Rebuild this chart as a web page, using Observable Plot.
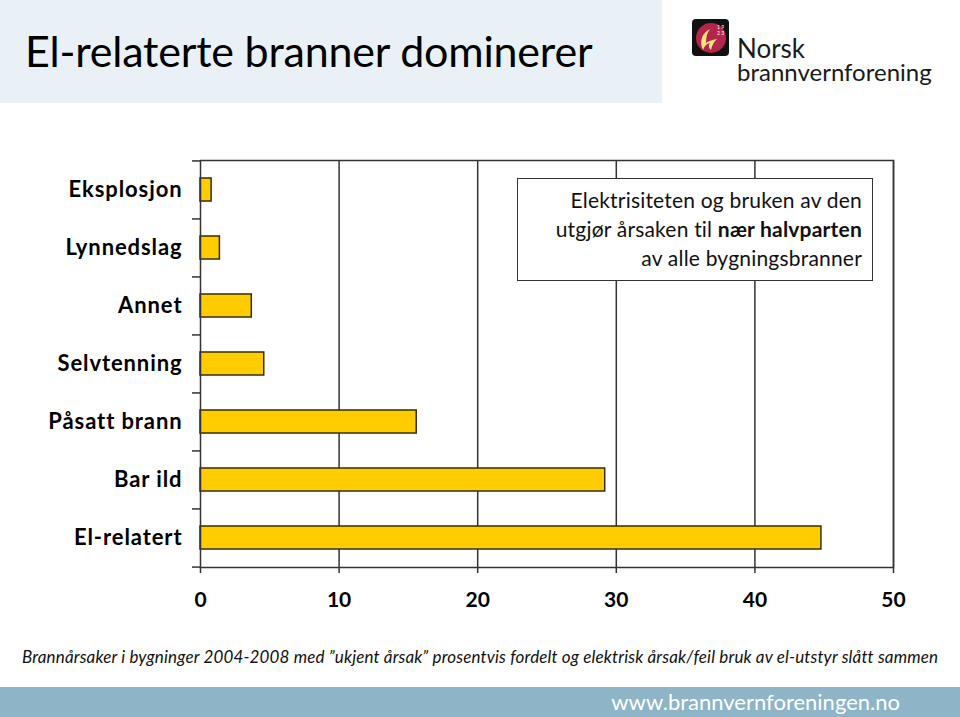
<!DOCTYPE html>
<html>
<head>
<meta charset="utf-8">
<script src="https://cdn.jsdelivr.net/npm/d3@7"></script>
<script src="https://cdn.jsdelivr.net/npm/@observablehq/plot@0.6"></script>
<style>
  html, body { margin: 0; padding: 0; background: #fff; }
  body { width: 960px; height: 717px; position: relative; overflow: hidden; font-family: Lato, "Open Sans", sans-serif; }
  #titlebg { position: absolute; left: 0; top: 0; width: 662px; height: 103px; background: #eaf1f6; }
  #title { position: absolute; left: 25px; top: 25px; font-size: 43px; line-height: 52px; color: #000; white-space: nowrap; letter-spacing: -0.2px; }
  #logo { position: absolute; left: 690px; top: 17px; }
  #org { position: absolute; left: 737px; top: 37px; font-size: 24px; color: #1a1a1a; line-height: 22.5px; white-space: nowrap; }
  #org .n { font-size: 26px; }
  #chart { position: absolute; left: 0; top: 0; }
  #chart svg g[aria-label="y-axis tick label"] text { letter-spacing: 0.9px; }
  #note { position: absolute; left: 517px; top: 178px; width: 344px; height: 95px; border: 1.5px solid #333; background: #fff; text-align: right; padding-right: 10px; font-size: 21px; line-height: 29px; padding-top: 6px; box-sizing: content-box; color: #111; white-space: nowrap; letter-spacing: 0.2px; }
  #caption { position: absolute; left: 22px; top: 646px; font-size: 17px; font-style: italic; color: #111; white-space: nowrap; letter-spacing: 0.15px; }
  #footer { position: absolute; left: 0; top: 687px; width: 960px; height: 30px; background: #8db4c7; }
  #url { position: absolute; right: 60px; top: 1px; font-size: 22px; color: #fff; line-height: 28px; white-space: nowrap; }
</style>
</head>
<body>
<div id="titlebg"></div>
<div id="title">El-relaterte branner dominerer</div>
<svg id="logo" width="42" height="42" viewBox="0 0 42 42">
  <rect x="2" y="2" width="37" height="37" rx="4" fill="#111"/>
  <circle cx="21" cy="21" r="15" fill="#b3254b"/>
  <path d="M20 12 C12 16 9 24 13 33 C15 28 17 27 20 26 C18 29 19 31 21 33 C22 28 24 25 27 22 C22 23 18 24 16 26 C16 20 17 16 20 12 Z" fill="#f4e27a"/>
  <text x="27" y="12" font-size="5" fill="#fff" font-family="Lato">1 9</text>
  <text x="27" y="18" font-size="5" fill="#fff" font-family="Lato">2 3</text>
</svg>
<div id="org"><span class="n">Norsk</span><br>brannvernforening</div>
<div id="chart"></div>
<div id="note">Elektrisiteten og bruken av den<br>utgjør årsaken til <b>nær halvparten</b><br>av alle bygningsbranner</div>
<div id="caption">Brannårsaker i bygninger 2004-2008 med ”ukjent årsak” prosentvis fordelt og elektrisk årsak/feil bruk av el-utstyr slått sammen</div>
<div id="footer"><div id="url">www.brannvernforeningen.no</div></div>
<script>
const categories = ["Eksplosjon", "Lynnedslag", "Annet", "Selvtenning", "Påsatt brann", "Bar ild", "El-relatert"];
const values = [0.8, 1.4, 3.7, 4.6, 15.6, 29.2, 44.8];
const xTicks = [0, 10, 20, 30, 40, 50];

const data = categories.map((c, i) => ({cat: c, value: values[i]}));

const W = 960, H = 717;
const mTop = 160, mBottom = 150, mLeft = 200, mRight = 67;
const step = (H - mTop - mBottom) / categories.length;

const chart = Plot.plot({
  width: W,
  height: H,
  marginTop: mTop,
  marginBottom: mBottom,
  marginLeft: mLeft,
  marginRight: mRight,
  style: {fontFamily: "Lato, 'Open Sans', sans-serif", background: "transparent", color: "#000", overflow: "visible"},
  x: {domain: [0, 50], ticks: xTicks, label: null},
  y: {domain: categories, paddingInner: 0.6, paddingOuter: 0.3, label: null},
  marks: [
    Plot.gridX(xTicks.slice(1), {stroke: "#333", strokeOpacity: 1, strokeWidth: 1.5}),
    Plot.barX(data, {x: "value", y: "cat", fill: "#ffcc00", stroke: "#3a2c00", strokeWidth: 1.5}),
    Plot.frame({stroke: "#333", strokeWidth: 1.5}),
    Plot.axisX({ticks: xTicks, tickSize: 6, tickPadding: 19, fontSize: 21, fontWeight: "bold", stroke: "#333", strokeWidth: 1.5, label: null}),
    Plot.axisY({tickSize: 8, tickFormat: () => "", dy: -step / 2, stroke: "#333", strokeWidth: 1.5, label: null}),
    Plot.axisY({ticks: [categories[categories.length - 1]], tickSize: 8, tickFormat: () => "", dy: step / 2, stroke: "#333", strokeWidth: 1.5, label: null}),
    Plot.axisY({tickSize: 0, tickPadding: 18, fontSize: 22, fontWeight: "bold", label: null})
  ]
});
document.getElementById("chart").appendChild(chart);
</script>
</body>
</html>
